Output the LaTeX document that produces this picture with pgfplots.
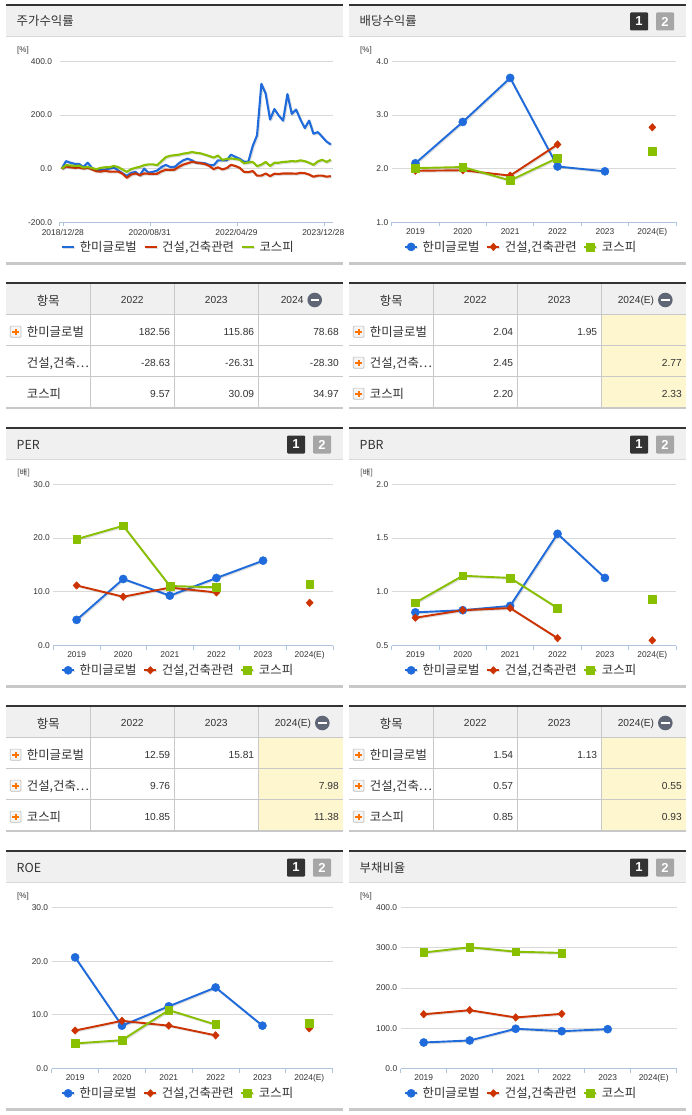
\documentclass[border=0pt]{standalone}
\usepackage{fontspec}
\setmainfont{Liberation Sans}
\newfontfamily\kr{Noto Sans CJK KR}
\usepackage{pgfplots}
\usepackage{pgfplotstable}
\pgfplotsset{compat=1.18}

\definecolor{cblue}{HTML}{1F6BDC}
\definecolor{cred}{HTML}{CC3300}
\definecolor{cgreen}{HTML}{88C000}
\definecolor{hdr}{HTML}{F0F0F0}
\definecolor{rule}{HTML}{C8C8C8}
\definecolor{dark}{HTML}{333333}
\definecolor{yel}{HTML}{FDF6CF}
\definecolor{axisc}{HTML}{B0C4DE}
\definecolor{minusc}{HTML}{5F6675}

\newcommand{\ticksize}{\fontsize{8.4}{10}\selectfont}
\newcommand{\krsize}{\kr\fontsize{12.4}{14}\selectfont}
\newcommand{\numsize}{\fontsize{10.2}{12}\selectfont}

% month, blue, red, green
\pgfplotstableread{
i b r g
0 0 0 0
1 28 8 13
2 22 5 12
3 18 3 10
4 18 4 11
5 6 0 4
6 22 3 6
7 2 -3 2
8 -6 -10 -2
9 -5 -11 3
10 -4 -8 5
11 0 -11 5
12 4 -11 10
13 -6 -11 6
14 -17 -19 -3
15 -27 -34 -12
16 -16 -22 -2
17 -12 -18 3
18 -25 -24 7
19 0 -18 13
20 -15 -19 16
21 -12 -20 16
22 -7 -19 13
23 6 -10 28
24 14 -4 43
25 6 -5 48
26 6 -4 50
27 20 7 52
28 31 15 56
29 37 20 58
30 31 25 62
31 22 23 59
32 22 20 57
33 20 17 52
34 14 10 47
35 12 -2 41
36 31 5 49
37 31 -3 33
38 31 2 36
39 52 14 38
40 44 10 36
41 37 3 33
42 26 -12 20
43 26 -13 23
44 84 -9 25
45 124 -26 9
46 316 -26 15
47 279 -18 25
48 183 -28 10
49 222 -19 22
50 198 -20 22
51 179 -18 25
52 278 -18 26
53 204 -18 28
54 220 -19 27
55 183 -16 31
56 151 -17 28
57 179 -22 22
58 130 -30 14
59 136 -26 27
60 119 -26 33
61 101 -30 25
62 90 -28 33
}\tblret

\pgfplotstableread{
x b r g
0 2.10 1.96 2.01
1 2.87 1.97 2.03
2 3.69 1.87 1.78
3 2.04 2.45 2.20
4 1.95 nan nan
5 nan 2.77 2.33
}\tbldiv

\pgfplotstableread{
x b r g
0 4.8 11.2 19.8
1 12.4 9.1 22.3
2 9.3 10.8 11.1
3 12.59 9.9 10.85
4 15.81 nan nan
5 nan 7.98 11.38
}\tblper

\pgfplotstableread{
x b r g
0 0.81 0.76 0.90
1 0.83 0.83 1.15
2 0.87 0.85 1.13
3 1.54 0.57 0.85
4 1.13 nan nan
5 nan 0.55 0.93
}\tblpbr

\pgfplotstableread{
x b r g
0 20.7 7.1 4.7
1 8.0 8.9 5.3
2 11.6 8.0 10.9
3 15.1 6.2 8.2
4 8.0 nan nan
5 nan 7.5 8.5
}\tblroe

\pgfplotstableread{
x b r g
0 65 135 288
1 70 145 301
2 99 127 290
3 93 136 287
4 98 nan nan
5 nan nan nan
}\tbldebt

\pgfplotsset{
  base/.style={
    scale only axis, clip=false,
    axis x line*=bottom, axis y line*=left,
    x axis line style={axisc,line width=0.8pt},
    y axis line style={draw=none},
    ymajorgrids, grid style={draw=gray!30,line width=0.9pt},
    ytick style={draw=none},
    tick align=outside,
    /pgf/number format/assume math mode=true,
    yticklabel style={font=\ticksize,text=dark,/pgf/number format/fixed,/pgf/number format/fixed zerofill,/pgf/number format/precision=1,xshift=0pt},
    xticklabel style={font=\ticksize,text=dark,anchor=base,yshift=-12pt},
    unbounded coords=jump,
    legend columns=3,
    legend cell align=left,
    legend style={draw=none,fill=none,inner sep=0pt,font=\krsize,text=dark,anchor=north west,
      /tikz/every odd column/.append style={column sep=2.5pt},
      /tikz/every even column/.append style={column sep=4.8pt}},
    legend image code/.code={\draw[mark repeat=2,mark phase=2,##1] plot coordinates {(0pt,0pt)(6pt,0pt)(12pt,0pt)};},
    every axis plot/.append style={line width=1.9pt,line join=round},
  },
  small/.style={
    base, xmin=-0.5, xmax=5.5,
    xtick={0,...,5},
    xticklabels={2019,2020,2021,2022,2023,2024(E)},
    minor xtick={-0.5,0.5,...,5.5},
    major tick length=0pt, minor tick length=4pt,
    minor tick style={axisc,line width=0.8pt},
  },
  shadow/.style={preaction={draw=black,opacity=0.13,transform canvas={xshift=1pt,yshift=-1pt}}},
  sb/.style={cblue,shadow,mark=*,mark size=4.1pt,mark options={solid,fill=cblue,draw=cblue,line width=0.4pt}},
  sr/.style={cred,shadow,mark=diamond*,mark size=3.8pt,mark options={solid,fill=cred,draw=cred,line width=0.4pt,xscale=1.25}},
  sg/.style={cgreen,shadow,mark=square*,mark size=3.9pt,mark options={solid,fill=cgreen,draw=cgreen,line width=0.4pt}},
}

% x0, ytop, title
\newcommand{\panel}[3]{%
  \fill[hdr] (#1,#2) rectangle (#1+337,#2+32);
  \fill[dark] (#1,#2) rectangle (#1+337,#2+2);
  \fill[gray!30] (#1,#2+32) rectangle (#1+337,#2+33);
  \fill[rule] (#1,#2+258) rectangle (#1+337,#2+260.5);
  \node[anchor=base west,inner sep=0pt,text=dark,font=\krsize] at (#1+10.5,#2+22) {#3};
}
% x0, ytop
\newcommand{\pager}[2]{%
  \fill[dark,rounded corners=1pt] (#1-18,#2+8.5) rectangle (#1,#2+26.5);
  \fill[gray!70,rounded corners=1pt] (#1+8,#2+8.5) rectangle (#1+26,#2+26.5);
  \node[text=white,inner sep=0pt,font=\bfseries\fontsize{13}{13}\selectfont] at (#1-9,#2+17.5) {1};
  \node[text=white,inner sep=0pt,font=\bfseries\fontsize{13}{13}\selectfont] at (#1+17,#2+17.5) {2};
}
% x0, ytop, last header, yellow flag, minus circle offset
\newcommand{\tbox}[5]{%
  \ifnum#4=1 \fill[yel] (#1+252.3,#2+32) rectangle (#1+337,#2+125);\fi
  \fill[hdr] (#1,#2) rectangle (#1+337,#2+32);
  \fill[dark] (#1,#2) rectangle (#1+337,#2+2);
  \foreach \yy in {32,63.7,94.7} {\fill[rule] (#1,#2+\yy-0.5) rectangle (#1+337,#2+\yy+0.5);}
  \fill[rule] (#1,#2+125) rectangle (#1+337,#2+127);
  \foreach \xx in {84.3,168.3,252.3} {\fill[rule] (#1+\xx-0.5,#2+2) rectangle (#1+\xx+0.5,#2+125);}
  \node[anchor=base,inner sep=0pt,text=dark,font=\krsize] at (#1+42.3,#2+23) {항목};
  \node[anchor=base,inner sep=0pt,text=dark,font=\numsize] at (#1+126.3,#2+21.5) {2022};
  \node[anchor=base,inner sep=0pt,text=dark,font=\numsize] at (#1+210.3,#2+21.5) {2023};
  \node[anchor=base east,inner sep=0pt,text=dark,font=\numsize] at (#1+#5-11,#2+21.5) {#3};
  \fill[minusc] (#1+#5,#2+18) circle (7.3);
  \fill[white] (#1+#5-4.2,#2+17) rectangle (#1+#5+4.2,#2+19);
}
% x0, ymid, icon flag, name, v1, v2, v3
\newcommand{\trow}[7]{%
  \ifnum#3=1
    \filldraw[draw=gray!50,fill=gray!8,rounded corners=1pt,line width=0.7pt] (#1+4.2,#2-5.6) rectangle (#1+15,#2+5.6);
    \fill[orange!90!red] (#1+6.4,#2-0.9) rectangle (#1+12.8,#2+0.9);
    \fill[orange!90!red] (#1+8.7,#2-3.2) rectangle (#1+10.5,#2+3.2);
  \fi
  \node[anchor=base west,inner sep=0pt,text=dark,font=\krsize] at (#1+20.7,#2+5) {#4};
  \node[anchor=base east,inner sep=0pt,text=dark,font=\numsize] at (#1+164.3,#2+3.8) {#5};
  \node[anchor=base east,inner sep=0pt,text=dark,font=\numsize] at (#1+248.3,#2+3.8) {#6};
  \node[anchor=base east,inner sep=0pt,text=dark,font=\numsize] at (#1+333,#2+3.8) {#7};
}

\begin{document}
\begin{tikzpicture}
\useasboundingbox (0pt,0pt) rectangle (691pt,-1115pt);
\fill[white] (0pt,0pt) rectangle (691pt,-1115pt);

\begin{scope}[x=1pt,y=-1pt]
  \panel{6}{4}{주가수익률}
  \panel{349}{4}{배당수익률}
  \panel{6}{427}{PER}
  \panel{349}{427}{PBR}
  \panel{6}{850}{ROE}
  \panel{349}{850}{부채비율}
  \pager{648}{4}
  \pager{305}{427}
  \pager{648}{427}
  \pager{305}{850}
  \pager{648}{850}

  \tbox{6}{282}{2024}{0}{308.7}
  \trow{6}{331.7}{1}{한미글로벌}{182.56}{115.86}{78.68}
  \trow{6}{362.7}{0}{건설,건축⋯}{-28.63}{-26.31}{-28.30}
  \trow{6}{393.7}{0}{코스피}{9.57}{30.09}{34.97}

  \tbox{349}{282}{2024(E)}{1}{316.3}
  \trow{349}{331.7}{1}{한미글로벌}{2.04}{1.95}{}
  \trow{349}{362.7}{1}{건설,건축⋯}{2.45}{}{2.77}
  \trow{349}{393.7}{1}{코스피}{2.20}{}{2.33}

  \tbox{6}{705}{2024(E)}{1}{316.3}
  \trow{6}{754.7}{1}{한미글로벌}{12.59}{15.81}{}
  \trow{6}{785.7}{1}{건설,건축⋯}{9.76}{}{7.98}
  \trow{6}{816.7}{1}{코스피}{10.85}{}{11.38}

  \tbox{349}{705}{2024(E)}{1}{316.3}
  \trow{349}{754.7}{1}{한미글로벌}{1.54}{1.13}{}
  \trow{349}{785.7}{1}{건설,건축⋯}{0.57}{}{0.55}
  \trow{349}{816.7}{1}{코스피}{0.85}{}{0.93}

  \node[anchor=base west,inner sep=0pt,text=dark,font=\fontsize{8}{9}\selectfont] at (17,52.5) {[\%]};
  \node[anchor=base west,inner sep=0pt,text=dark,font=\fontsize{8}{9}\selectfont] at (360,52.5) {[\%]};
  \node[anchor=base west,inner sep=0pt,text=dark,font=\kr\fontsize{8}{9}\selectfont] at (17,475.5) {[배]};
  \node[anchor=base west,inner sep=0pt,text=dark,font=\kr\fontsize{8}{9}\selectfont] at (360,475.5) {[배]};
  \node[anchor=base west,inner sep=0pt,text=dark,font=\fontsize{8}{9}\selectfont] at (17,898.5) {[\%]};
  \node[anchor=base west,inner sep=0pt,text=dark,font=\fontsize{8}{9}\selectfont] at (360,898.5) {[\%]};
\end{scope}

% total return
\begin{axis}[base, at={(59.5pt,-222.3pt)}, anchor=south west, width=273.5pt, height=161pt,
  xmin=-0.5, xmax=62.5, ymin=-200, ymax=400, ytick={-200,0,200,400},
  xtick={-0.5,0.5,20.5,40.5,60.5},
  xticklabels={,2018/12/28,2020/08/31,2022/04/29,2023/12/28},
  xticklabel style={xshift=-1pt,yshift=3pt},
  major tick length=4pt, xtick style={axisc,line width=0.8pt},
  every axis plot/.append style={line width=2.1pt,shadow},
  legend style={at={(0,0)},xshift=1.5pt,yshift=-16.5pt}]
\addplot[cblue,mark=none] table[x=i,y=b]{\tblret};
\addplot[cred,mark=none] table[x=i,y=r]{\tblret};
\addplot[cgreen,mark=none] table[x=i,y=g]{\tblret};
\legend{한미글로벌,{건설,건축관련},코스피}
\end{axis}

% dividend yield
\begin{axis}[small, at={(391.7pt,-222.3pt)}, anchor=south west, width=284.3pt, height=161pt,
  ymin=1, ymax=4, ytick={1,2,3,4},
  legend style={at={(0,0)},xshift=12.3pt,yshift=-16.5pt}]
\addplot[sb] table[x=x,y=b]{\tbldiv};
\addplot[sr] table[x=x,y=r]{\tbldiv};
\addplot[sg] table[x=x,y=g]{\tbldiv};
\legend{한미글로벌,{건설,건축관련},코스피}
\end{axis}

% PER
\begin{axis}[small, at={(53.3pt,-645.7pt)}, anchor=south west, width=279.7pt, height=161.4pt,
  ymin=0, ymax=30, ytick={0,10,20,30},
  legend style={at={(0,0)},xshift=7.7pt,yshift=-16.5pt}]
\addplot[sb] table[x=x,y=b]{\tblper};
\addplot[sr] table[x=x,y=r]{\tblper};
\addplot[sg] table[x=x,y=g]{\tblper};
\legend{한미글로벌,{건설,건축관련},코스피}
\end{axis}

% PBR
\begin{axis}[small, at={(391.7pt,-645.7pt)}, anchor=south west, width=284.3pt, height=161.4pt,
  ymin=0.5, ymax=2, ytick={0.5,1,1.5,2},
  legend style={at={(0,0)},xshift=12.3pt,yshift=-16.5pt}]
\addplot[sb] table[x=x,y=b]{\tblpbr};
\addplot[sr] table[x=x,y=r]{\tblpbr};
\addplot[sg] table[x=x,y=g]{\tblpbr};
\legend{한미글로벌,{건설,건축관련},코스피}
\end{axis}

% ROE
\begin{axis}[small, at={(51.7pt,-1068.7pt)}, anchor=south west, width=281pt, height=161.4pt,
  ymin=0, ymax=30, ytick={0,10,20,30},
  legend style={at={(0,0)},xshift=9.3pt,yshift=-16.5pt}]
\addplot[sb] table[x=x,y=b]{\tblroe};
\addplot[sr] table[x=x,y=r]{\tblroe};
\addplot[sg] table[x=x,y=g]{\tblroe};
\legend{한미글로벌,{건설,건축관련},코스피}
\end{axis}

% debt ratio
\begin{axis}[small, at={(400.7pt,-1068.7pt)}, anchor=south west, width=276pt, height=161.4pt,
  ymin=0, ymax=400, ytick={0,100,200,300,400},
  legend style={at={(0,0)},xshift=3.3pt,yshift=-16.5pt}]
\addplot[sb] table[x=x,y=b]{\tbldebt};
\addplot[sr] table[x=x,y=r]{\tbldebt};
\addplot[sg] table[x=x,y=g]{\tbldebt};
\legend{한미글로벌,{건설,건축관련},코스피}
\end{axis}
\end{tikzpicture}
\end{document}
